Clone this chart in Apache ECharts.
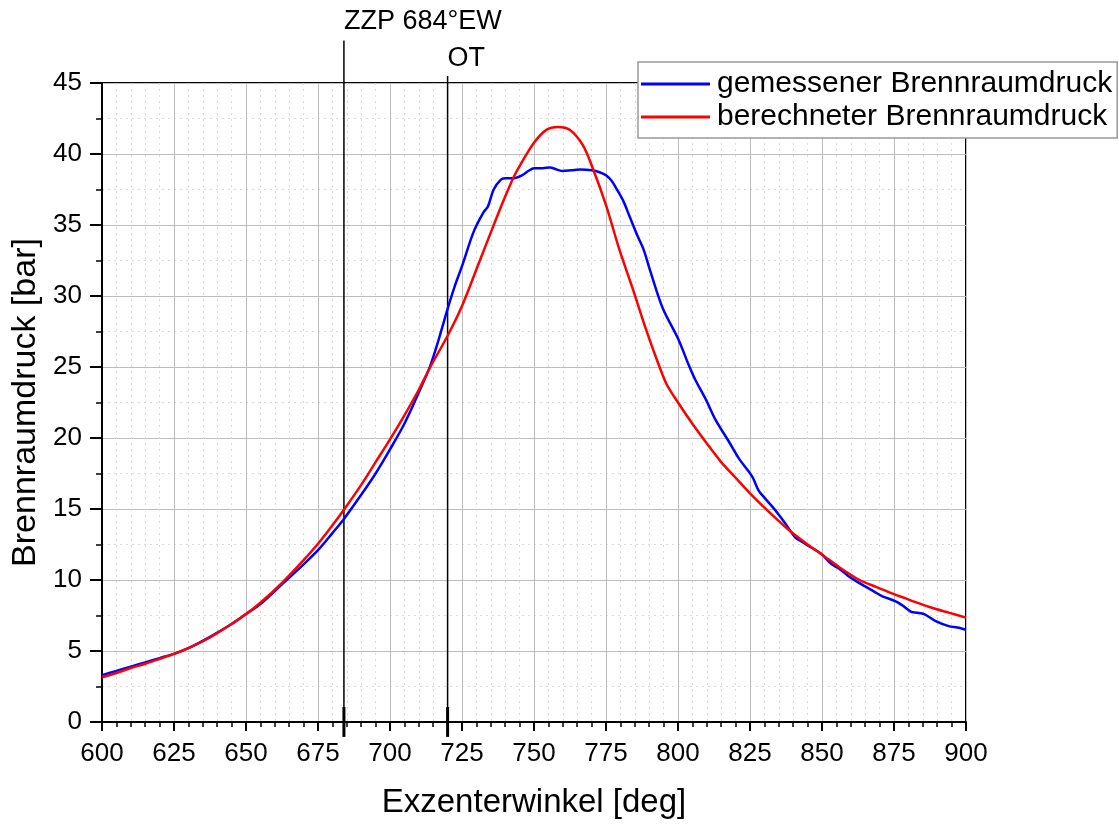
<!DOCTYPE html>
<html>
<head>
<meta charset="utf-8">
<script src="https://cdn.jsdelivr.net/npm/echarts@6/dist/echarts.min.js"></script>
<style>html,body{margin:0;padding:0;background:#fff;}#c{width:1119px;height:824px;}</style>
</head>
<body>
<div id="c"></div>
<script>
// ---- data ----
const seriesNames = ['gemessener Brennraumdruck', 'berechneter Brennraumdruck'];
const xLabel = 'Exzenterwinkel [deg]';
const yLabel = 'Brennraumdruck [bar]';
const markerAngles = [684, 720];
const markerTexts = ['ZZP 684°EW', 'OT'];

const measuredAngle = [600,605,610,615,620,625,630,637.5,645,650,655,662.5,670,675,680,684,690,695,700,705,710,714,717,720,722.5,725,729,732.5,734,736,738.5,740,743,745.8,748,750,753,755.5,758,760,763,766,770,773,775,777,778.5,781,783,786,788,790,792.5,795,800,803.8,806,809.7,813,817.8,821,824.7,826,828,830,832.6,835,837.2,840.7,843,845.3,847,850,853.4,856,859,862,865,868,871,875.6,878,881,883,885.5,889.5,894,897,900];
const measuredPressure = [3.3,3.6,3.9,4.2,4.5,4.8,5.2,6.0,6.9,7.6,8.3,9.7,11.1,12.1,13.3,14.3,16.0,17.5,19.2,21.0,23.2,25.1,27.0,29.1,30.7,32.1,34.5,35.9,36.3,37.5,38.2,38.3,38.3,38.5,38.8,39.0,39.0,39.05,38.9,38.8,38.85,38.9,38.85,38.7,38.5,38.1,37.6,36.7,35.7,34.2,33.3,32.0,30.4,29.0,27.0,25.1,24.1,22.7,21.3,19.7,18.6,17.6,17.2,16.3,15.8,15.2,14.6,14.0,13.0,12.7,12.4,12.2,11.8,11.1,10.8,10.3,9.9,9.55,9.2,8.85,8.5,8.2,7.75,7.7,7.6,7.1,6.75,6.65,6.5];

const calcAngle = [600,605,610,615,620,625,630,637.5,645,650,655,662.5,670,675,680,684,690,695,700,705,710,714,720,725,731,736.8,740,743,746,750,754.3,758.3,762.4,767,770.4,775,779.6,784.3,788.8,792.5,796,800,805,809.7,815,820,825,830,838.6,845,850,856,863,869,875,881,887.3,894,900];
const calcPressure = [3.15,3.45,3.8,4.1,4.45,4.8,5.2,5.95,6.9,7.6,8.4,9.8,11.4,12.55,13.85,14.95,16.7,18.3,19.9,21.6,23.4,25.0,27.2,29.3,32.4,35.4,37.0,38.4,39.5,40.8,41.7,41.9,41.7,40.6,39.0,36.4,33.3,30.5,27.7,25.6,23.8,22.5,21.0,19.7,18.3,17.2,16.1,15.1,13.5,12.5,11.8,10.9,10.0,9.5,9.0,8.55,8.1,7.7,7.35];

// ---- chart ----
const FONT = 'Liberation Sans, Arial, sans-serif';
const zip = (a, b) => a.map((v, i) => [v, b[i]]);
const markerLineTop = [48, 45.5];
const markerLabelY = [49.3, 46.7];

const series = [
  {
    name: seriesNames[0], type: 'line', data: zip(measuredAngle, measuredPressure),
    showSymbol: false, smooth: 0.3, z: 5,
    lineStyle: { color: '#0000FF', width: 2.5 }, itemStyle: { color: '#0000FF' }
  },
  {
    name: seriesNames[1], type: 'line', data: zip(calcAngle, calcPressure),
    showSymbol: false, smooth: 0.3, z: 6,
    lineStyle: { color: '#FF0000', width: 2.5 }, itemStyle: { color: '#FF0000' }
  }
];
markerAngles.forEach((a, i) => {
  series.push({
    type: 'line', clip: false, silent: true, showSymbol: false, z: 4,
    data: [[a, 0], [a, markerLineTop[i]]],
    lineStyle: { color: '#000', width: 1.5 }
  });
  series.push({
    type: 'line', clip: false, silent: true, showSymbol: false, z: 7,
    data: [[a, -1.05], [a, 1.05]],
    lineStyle: { color: '#000', width: 3 }
  });
  series.push({
    type: 'scatter', clip: false, silent: true, symbolSize: 0, z: 7,
    itemStyle: { opacity: 1, color: '#000' },
    data: [[a, markerLabelY[i]]],
    label: { show: true, position: 'right', distance: 0, formatter: markerTexts[i],
      color: '#000', opacity: 1, fontSize: 27, fontFamily: FONT }
  });
});

const chart = echarts.init(document.getElementById('c'), null, { renderer: 'canvas' });
chart.setOption({
  animation: false,
  backgroundColor: '#fff',
  grid: { left: 102, right: 153, top: 83, bottom: 102, show: true, borderColor: '#000', borderWidth: 2, backgroundColor: 'transparent' },
  legend: {
    data: seriesNames, orient: 'vertical', left: 638, top: 62,
    backgroundColor: '#fff', borderColor: '#9a9a9a', borderWidth: 1.5,
    padding: [7, 5, 6, 3], itemGap: 3, itemWidth: 69, itemHeight: 3, icon: 'rect',
    textStyle: { fontSize: 30, fontFamily: FONT, color: '#000', padding: [0, 0, 0, 2] }
  },
  xAxis: {
    type: 'value', min: 600, max: 900, interval: 25,
    name: xLabel, nameLocation: 'middle', nameGap: 64,
    nameTextStyle: { fontSize: 33, fontFamily: FONT, color: '#000' },
    axisLine: { lineStyle: { color: '#000', width: 2 } },
    axisTick: { show: true, length: 9, lineStyle: { color: '#000', width: 2 } },
    minorTick: { show: true, splitNumber: 5, length: 5, lineStyle: { color: '#000', width: 1.5 } },
    axisLabel: { fontSize: 26, fontFamily: FONT, color: '#000', margin: 19 },
    splitLine: { show: true, lineStyle: { color: '#bdbdbd', width: 1 } },
    minorSplitLine: { show: true, lineStyle: { color: '#dadada', width: 1, type: [2, 4] } }
  },
  yAxis: {
    type: 'value', min: 0, max: 45, interval: 5,
    name: yLabel, nameLocation: 'middle', nameGap: 54,
    nameTextStyle: { fontSize: 34, fontFamily: FONT, color: '#000' },
    axisLine: { lineStyle: { color: '#000', width: 2 } },
    axisTick: { show: true, length: 12, lineStyle: { color: '#000', width: 2 } },
    minorTick: { show: true, splitNumber: 2, length: 6, lineStyle: { color: '#000', width: 1.5 } },
    axisLabel: { fontSize: 26, fontFamily: FONT, color: '#000', margin: 20 },
    splitLine: { show: true, lineStyle: { color: '#bdbdbd', width: 1 } },
    minorSplitLine: { show: true, lineStyle: { color: '#dadada', width: 1, type: [2, 4] } }
  },
  series: series
});
</script>
</body>
</html>
